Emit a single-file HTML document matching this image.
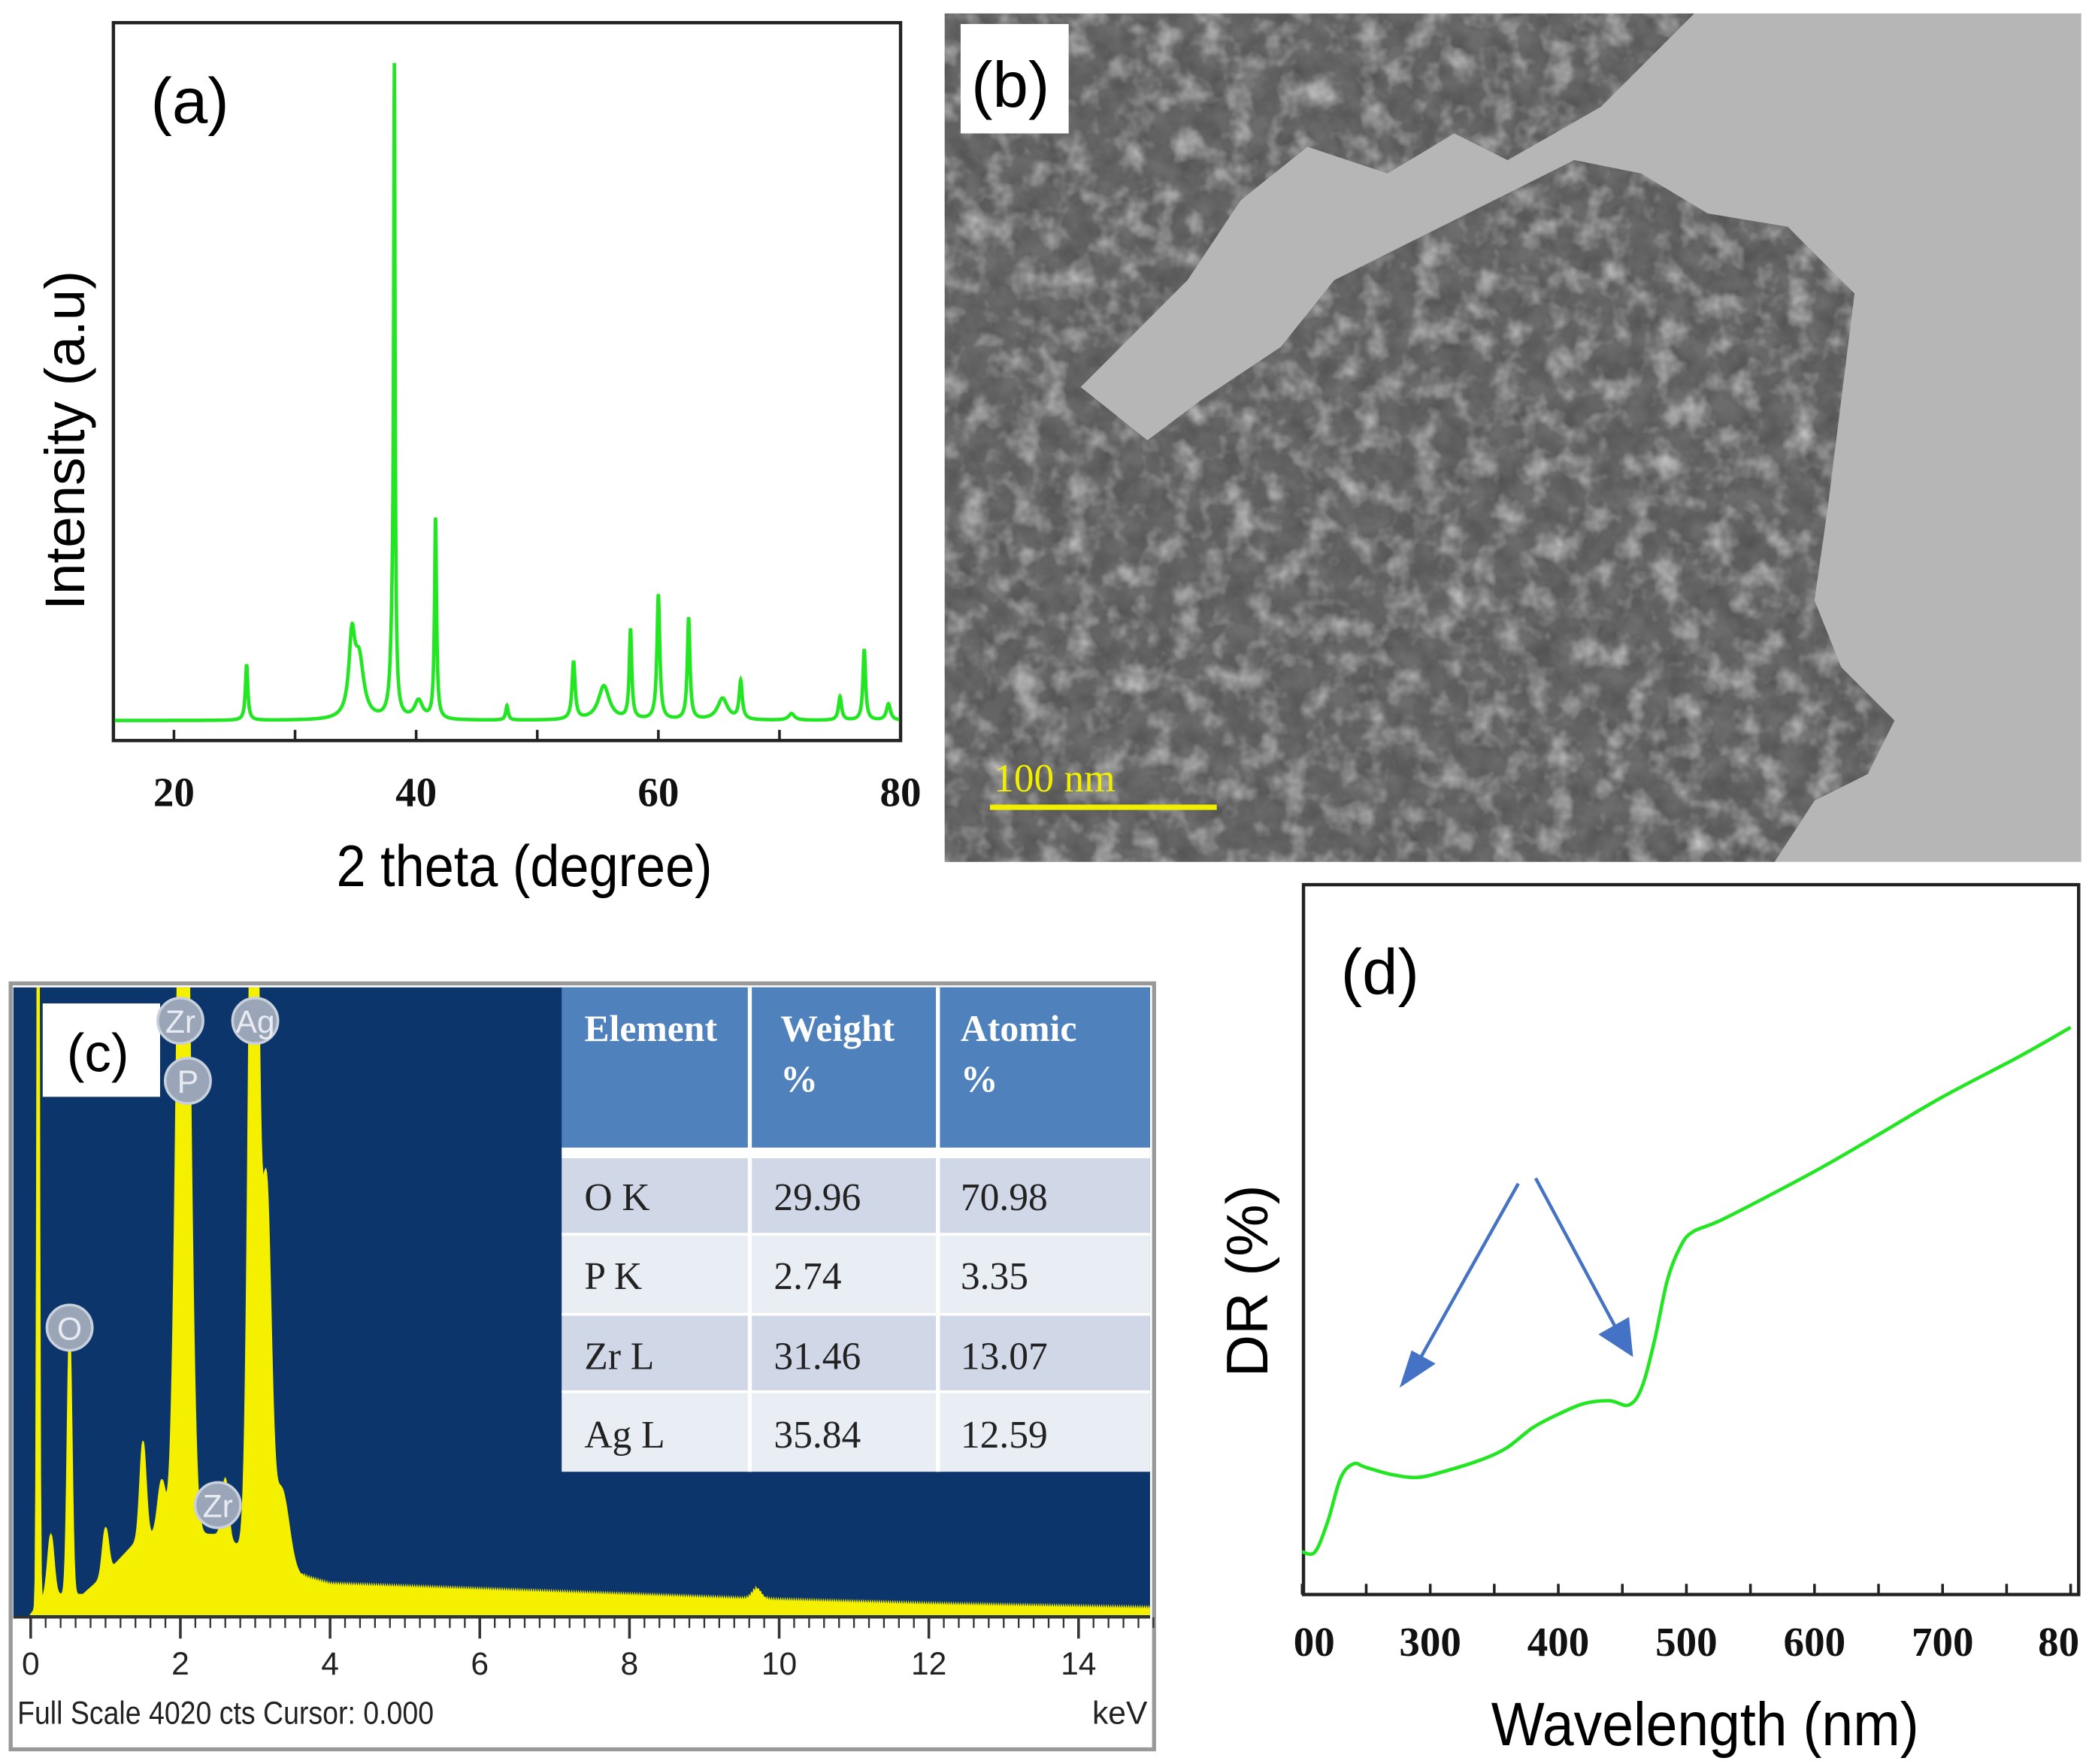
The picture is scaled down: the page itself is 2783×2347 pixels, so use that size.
<!DOCTYPE html>
<html><head><meta charset="utf-8">
<style>
html,body{margin:0;padding:0;background:#fff;}
svg{display:block;}
.tk{font-family:"Liberation Serif",serif;font-weight:bold;font-size:31px;fill:#111;}
.ttl{font-family:"Liberation Sans",sans-serif;fill:#000;}
</style></head>
<body>
<svg id="fig" width="2783" height="2347" viewBox="0 0 1568 1322" preserveAspectRatio="none" xmlns="http://www.w3.org/2000/svg">
<defs>
<filter id="tex" x="0" y="0" width="100%" height="100%">
<feTurbulence type="fractalNoise" baseFrequency="0.06" numOctaves="3" seed="7"/>
<feColorMatrix type="matrix" values="0 0 0 0 0.08  0 0 0 0 0.08  0 0 0 0 0.08  1.4 0 0 0 -0.35"/>
</filter>
<filter id="tex2" x="0" y="0" width="100%" height="100%">
<feTurbulence type="fractalNoise" baseFrequency="0.05" numOctaves="3" seed="3"/>
<feColorMatrix type="matrix" values="0 0 0 0 1  0 0 0 0 1  0 0 0 0 1  1.2 0 0 0 -0.55"/>
</filter>
<clipPath id="tclip"><rect x="708" y="10" width="852" height="636"/></clipPath>
<clipPath id="aggclip"><path d="M708,10 L1270,10 L1240,40 L1200,80 L1130,120 L1090,100 L1040,130 L980,110 L930,150 L890,210 L850,250 L810,290 L860,330 L900,300 L960,260 L1000,210 L1060,180 L1120,150 L1180,120 L1230,130 L1280,160 L1340,170 L1390,220 L1380,300 L1370,380 L1360,450 L1380,500 L1420,540 L1400,580 L1360,600 L1330,646 L708,646 Z"/></clipPath>
<clipPath id="cclip"><rect x="10" y="740" width="852" height="472"/></clipPath>
<clipPath id="aclip"><rect x="86" y="18" width="588" height="536"/></clipPath>
</defs>

<!-- Panel a -->
<g id="pa">
<rect x="85" y="17" width="590" height="538" fill="#fff" stroke="#222" stroke-width="2.5"/>
<path id="xrdLine" fill="none" stroke="#22e622" stroke-width="2.6" clip-path="url(#aclip)"/>
<g id="xrdTicks"></g>
<text class="ttl" x="113" y="92" font-size="48">(a)</text>
<text class="ttl" x="393" y="664" font-size="44" text-anchor="middle" transform="translate(393 0) scale(0.9 1) translate(-393 0)">2 theta (degree)</text>
<text class="ttl" x="0" y="0" font-size="42" text-anchor="middle" transform="translate(63 330) rotate(-90)">Intensity (a.u)</text>
</g>

<!-- Panel b -->
<g id="pb" clip-path="url(#tclip)">
<rect x="708" y="10" width="852" height="636" fill="#b6b6b6"/>
<g clip-path="url(#aggclip)">
<rect x="708" y="10" width="852" height="636" fill="#6c6c6c"/>
<rect x="708" y="10" width="852" height="636" filter="url(#tex)"/>
<rect x="708" y="10" width="852" height="636" filter="url(#tex2)"/>
</g>
<rect x="720" y="18" width="81" height="82" fill="#fff"/>
<text class="ttl" x="728" y="80" font-size="48">(b)</text>
<line x1="742" y1="605" x2="912" y2="605" stroke="#f2ee00" stroke-width="4"/>
<text x="745" y="593" font-family="Liberation Serif, serif" font-size="30" fill="#f2ee00">100 nm</text>
</g>

<!-- Panel c -->
<g id="pc">
<rect x="8" y="737" width="857" height="574" fill="#fff" stroke="#999" stroke-width="3"/>
<rect x="10" y="740" width="852" height="472" fill="#0b356b"/>
<path id="edxFill" fill="#f5f000" stroke="#f5f000" stroke-width="1" clip-path="url(#cclip)"/>
<line x1="10" y1="1212" x2="862" y2="1212" stroke="#333" stroke-width="2"/>
<g id="edxTicks"></g>
<text x="13" y="1292" font-family="Liberation Sans, sans-serif" font-size="24" fill="#222" transform="translate(13 0) scale(0.88 1) translate(-13 0)">Full Scale 4020 cts Cursor: 0.000</text>
<text x="860" y="1292" font-family="Liberation Sans, sans-serif" font-size="24" fill="#222" text-anchor="end">keV</text>
<rect x="32" y="752" width="88" height="70" fill="#fff"/>
<text class="ttl" x="50" y="803" font-size="40">(c)</text>
<g id="edxLabels"></g>
<g id="table">
<rect x="421" y="740" width="441" height="120" fill="#4f81bd"/>
<rect x="421" y="860" width="441" height="8" fill="#fff"/>
<rect x="421" y="868" width="441" height="57" fill="#d0d8e8"/>
<rect x="421" y="925" width="441" height="60" fill="#e9edf4"/>
<rect x="421" y="985" width="441" height="58" fill="#d0d8e8"/>
<rect x="421" y="1043" width="441" height="60" fill="#e9edf4"/>
<line x1="562" y1="740" x2="562" y2="1103" stroke="#fff" stroke-width="3"/>
<line x1="703" y1="740" x2="703" y2="1103" stroke="#fff" stroke-width="3"/>
<line x1="421" y1="925" x2="862" y2="925" stroke="#fff" stroke-width="2"/>
<line x1="421" y1="985" x2="862" y2="985" stroke="#fff" stroke-width="2"/>
<line x1="421" y1="1043" x2="862" y2="1043" stroke="#fff" stroke-width="2"/>
<g font-family="Liberation Serif, serif" font-weight="bold" font-size="28" fill="#fff">
<text x="438" y="780">Element</text>
<text x="585" y="780">Weight</text>
<text x="585" y="818">%</text>
<text x="720" y="780">Atomic</text>
<text x="720" y="818">%</text>
</g>
<g id="tbody" font-family="Liberation Serif, serif" font-size="29" fill="#222"></g>
</g>
</g>

<!-- Panel d -->
<g id="pd">
<rect x="977" y="663" width="581" height="532" fill="#fff" stroke="#222" stroke-width="2.5"/>
<path id="drLine" fill="none" stroke="#22e622" stroke-width="2.6"/>
<g id="drTicks"></g>
<line x1="1138" y1="887" x2="1060" y2="1026" stroke="#4472c4" stroke-width="2.5"/>
<line x1="1151" y1="883" x2="1218" y2="1008" stroke="#4472c4" stroke-width="2.5"/>
<polygon points="1049,1040 1058,1012 1076,1022" fill="#4472c4"/>
<polygon points="1224,1017 1198,1000 1221,987" fill="#4472c4"/>
<text class="ttl" x="1005" y="745" font-size="48">(d)</text>
<text class="ttl" x="1278" y="1308" font-size="46" text-anchor="middle" transform="translate(1278 0) scale(0.92 1) translate(-1278 0)">Wavelength (nm)</text>
<text class="ttl" x="0" y="0" font-size="44" text-anchor="middle" transform="translate(950 960) rotate(-90)">DR (%)</text>
</g>
</svg>
<script>
// ---- XRD data (peak positions, intensities, widths) ----
const xrdPos    = [26.0, 34.7, 35.3, 38.05, 38.2, 40.2, 41.6, 47.5, 53.0, 55.5, 57.7, 60.0, 62.5, 65.3, 66.8, 71.0, 75.0, 77.0, 79.0];
const xrdInt    = [85, 115, 85, 110, 925, 28, 305, 22, 88, 52, 136, 190, 155, 33, 58, 10, 36, 108, 25];
const xrdWid    = [0.12, 0.3, 0.45, 0.2, 0.07, 0.4, 0.1, 0.12, 0.15, 0.55, 0.12, 0.14, 0.13, 0.5, 0.15, 0.3, 0.15, 0.13, 0.2];
const xrdTicks  = [20, 40, 60, 80];
// ---- EDX data ----
const edxPos    = [0.1, 0.27, 0.52, 1.0, 1.5, 1.75, 2.04, 2.6, 2.98, 3.15, 3.35, 9.7];
const edxCnt    = [700, 45, 200, 35, 70, 40, 700, 45, 700, 270, 60, 8];
const edxWid    = [0.015, 0.04, 0.03, 0.04, 0.04, 0.05, 0.08, 0.04, 0.06, 0.06, 0.1, 0.06];
const edxBgE    = [0, 0.2, 0.7, 1.0, 1.5, 2.5, 3.5, 4, 6, 8, 10, 12, 15];
const edxBgC    = [0, 15, 15, 30, 60, 60, 30, 22, 18, 14, 10, 7, 4];
const edxTicks  = [0, 2, 4, 6, 8, 10, 12, 14];
const edxTags   = ["Zr", "P", "Ag", "O", "Zr"];
const edxTagE   = [2.0, 2.1, 3.0, 0.52, 2.5];
const edxTagC   = [445, 400, 445, 215, 82];
// ---- Table ----
const tabEl  = ["O K", "P K", "Zr L", "Ag L"];
const tabWt  = ["29.96", "2.74", "31.46", "35.84"];
const tabAt  = ["70.98", "3.35", "13.07", "12.59"];
// ---- DR data ----
const drWl  = [200, 210, 220, 230, 240, 250, 270, 290, 310, 340, 360, 380, 400, 420, 440, 455, 465, 475, 485, 495, 505, 530, 600, 650, 700, 760, 800];
const drVal = [6.0, 6.0, 10.3, 16.4, 18.4, 17.9, 16.9, 16.5, 17.3, 19.0, 20.7, 23.5, 25.4, 26.9, 27.3, 26.7, 29.1, 35.7, 44.2, 48.9, 51.1, 53.0, 59.6, 64.8, 70.1, 75.8, 79.9];
const drTickV = [200, 300, 400, 500, 600, 700, 800];
const drTickL = ["00", "300", "400", "500", "600", "700", "80"];

const NS = "http://www.w3.org/2000/svg";
function mk(tag, attrs, parent){const e=document.createElementNS(NS,tag);for(const k in attrs)e.setAttribute(k,attrs[k]);parent.appendChild(e);return e;}

// XRD axes
const xX = v => 85 + (v - 15) * (590 / 65);
const xY = v => 540 - v * 0.493;
let d = "";
for (let t = 15; t <= 80.001; t += 0.02) {
  let s = 0;
  for (let i = 0; i < xrdPos.length; i++) { const u = (t - xrdPos[i]) / xrdWid[i]; s += xrdInt[i] / (1 + u * u); }
  d += (d ? "L" : "M") + xX(t).toFixed(2) + "," + xY(s).toFixed(2);
}
document.getElementById("xrdLine").setAttribute("d", d);
const xt = document.getElementById("xrdTicks");
for (let v = 20; v <= 80; v += 10) {
  const l = mk("line", {x1: xX(v), x2: xX(v), y1: 555, y2: 547, stroke: "#222", "stroke-width": 2}, xt);
  
  
}
xrdTicks.forEach(v => {
  const t = mk("text", {x: xX(v), y: 604, class: "tk", "text-anchor": "middle"}, xt);
  t.textContent = v;
  
  
});

// EDX
const eX = v => 23 + v * 56.1;
const eY = v => 1210 - v;
function interpBg(e){for(let i=1;i<edxBgE.length;i++){if(e<=edxBgE[i]){const f=(e-edxBgE[i-1])/(edxBgE[i]-edxBgE[i-1]);return edxBgC[i-1]+f*(edxBgC[i]-edxBgC[i-1]);}}return edxBgC[edxBgC.length-1];}
let ed = "M" + eX(0) + "," + eY(0);
for (let e = 0; e <= 15; e += 0.01) {
  let s = interpBg(e);
  for (let i = 0; i < edxPos.length; i++) { const u = (e - edxPos[i]) / edxWid[i]; s += edxCnt[i] * Math.exp(-0.5 * u * u); }
  const jit = ((Math.round(e * 100) % 3) - 1) * 1.5;
  ed += "L" + eX(e).toFixed(2) + "," + (eY(s) + (e > 3.6 ? jit : 0)).toFixed(2);
}
ed += "L" + eX(15) + "," + eY(0) + "Z";
document.getElementById("edxFill").setAttribute("d", ed);
const et = document.getElementById("edxTicks");
for (let v = 0; v <= 15.001; v += 0.2) {
  const major = Math.abs(v - Math.round(v)) < 0.01 && Math.round(v) % 2 === 0;
  const l = mk("line", {x1: eX(v), x2: eX(v), y1: 1212, y2: major ? 1228 : 1220, stroke: "#333", "stroke-width": major ? 2 : 1.3}, et);
  
  
}
edxTicks.forEach(v => {
  const t = mk("text", {x: eX(v), y: 1255, "font-family": "Liberation Sans, sans-serif", "font-size": 24, fill: "#222", "text-anchor": "middle"}, et);
  t.textContent = v;
  
  
});
const el = document.getElementById("edxLabels");
edxTags.forEach((s, i) => {
  const g = mk("g", {}, el);
  
  
  const cx = eX(edxTagE[i]), cy = eY(edxTagC[i]);
  mk("circle", {cx: cx, cy: cy, r: 17, fill: "#9aa6b8", stroke: "#c8d0dc", "stroke-width": 2}, g);
  const t = mk("text", {x: cx, y: cy + 9, "font-family": "Liberation Sans, sans-serif", "font-size": 24, fill: "#e8ecf2", "text-anchor": "middle"}, g);
  t.textContent = s;
});
const tb = document.getElementById("tbody");
const rowY = [907, 966, 1026, 1085];
tabEl.forEach((s, i) => {
  [[s, 438], [tabWt[i], 580], [tabAt[i], 720]].forEach(([txt, x]) => {
    const t = mk("text", {x: x, y: rowY[i]}, tb);
    t.textContent = txt;
    
    
  });
});

// DR
const dX = v => 976 + (v - 200) * 0.96;
const dY = v => 1195 - v * 5.32;
function catmull(px, py){let s="M"+px[0]+","+py[0];for(let i=0;i<px.length-1;i++){const p0=i?i-1:i,p3=i+2<px.length?i+2:i+1;const c1x=px[i]+(px[i+1]-px[p0])/6,c1y=py[i]+(py[i+1]-py[p0])/6;const c2x=px[i+1]-(px[p3]-px[i])/6,c2y=py[i+1]-(py[p3]-py[i])/6;s+="C"+c1x.toFixed(2)+","+c1y.toFixed(2)+" "+c2x.toFixed(2)+","+c2y.toFixed(2)+" "+px[i+1].toFixed(2)+","+py[i+1].toFixed(2);}return s;}
document.getElementById("drLine").setAttribute("d", catmull(drWl.map(dX), drVal.map(dY)));
const dt = document.getElementById("drTicks");
for (let v = 200; v <= 800; v += 50) {
  const l = mk("line", {x1: dX(v), x2: dX(v), y1: 1195, y2: 1187, stroke: "#222", "stroke-width": 2}, dt);
  
  
}
drTickV.forEach((v, i) => {
  const x = i === 0 ? dX(v) + 9 : (i === drTickV.length - 1 ? dX(v) - 9 : dX(v));
  const t = mk("text", {x: x, y: 1241, class: "tk", "text-anchor": "middle"}, dt);
  t.textContent = drTickL[i];
  
  
});
</script>
</body></html>
